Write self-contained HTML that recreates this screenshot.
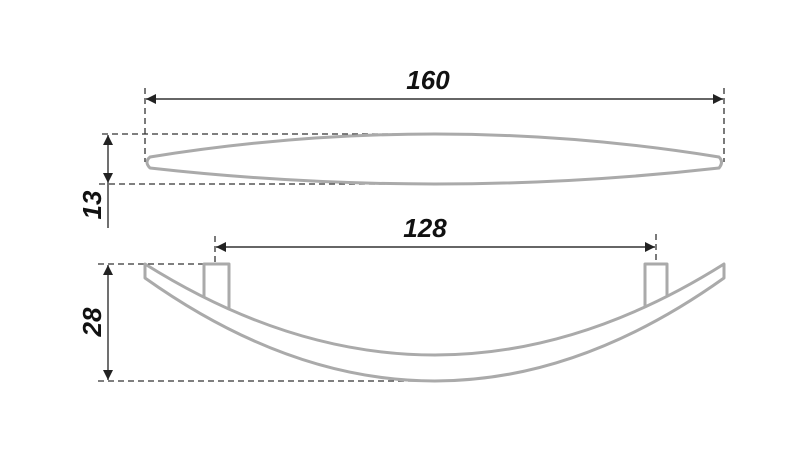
<!DOCTYPE html><html><head><style>body{margin:0;background:#fff}</style></head><body>
<svg width="800" height="450" xmlns="http://www.w3.org/2000/svg">
<defs><marker id="a" viewBox="0 0 10 10" refX="10" refY="5" markerWidth="14" markerHeight="10" markerUnits="userSpaceOnUse" orient="auto-start-reverse"><path d="M0,0L10,5L0,10z" fill="#222"/></marker></defs>
<g stroke="#333" stroke-width="1.3" stroke-dasharray="6,4" fill="none">
<line x1="145" y1="88" x2="145" y2="162"/><line x1="724" y1="88" x2="724" y2="162"/>
<line x1="102" y1="134" x2="432" y2="134"/><line x1="99" y1="184" x2="413" y2="184"/>
<line x1="215" y1="236" x2="215" y2="263"/><line x1="656" y1="234" x2="656" y2="263"/>
<line x1="98" y1="264" x2="205" y2="264"/><line x1="98" y1="381" x2="432" y2="381"/>
</g>
<g stroke="#333" stroke-width="1.4" fill="none">
<line x1="146" y1="99" x2="723" y2="99" marker-start="url(#a)" marker-end="url(#a)"/>
<line x1="216" y1="247" x2="655" y2="247" marker-start="url(#a)" marker-end="url(#a)"/>
<line x1="108" y1="135" x2="108" y2="183" marker-start="url(#a)" marker-end="url(#a)"/>
<line x1="108" y1="183" x2="108" y2="228"/>
<line x1="108" y1="265" x2="108" y2="380" marker-start="url(#a)" marker-end="url(#a)"/>
</g>
<g stroke="#aaa" stroke-width="3" fill="none" stroke-linejoin="round">
<path d="M150,157 Q435,111 719,157 Q724,162 719,168 Q435,200 150,168 Q144,162 150,157z"/>
<path d="M145,264 Q435,446 724,264 L724,278 Q435,484 145,278 Z"/>
<path d="M204,297 L204,264 L229,264 L229,308"/>
<path d="M645,308 L645,264 L667,264 L667,297"/>
</g>
<g font-family="Liberation Sans, sans-serif" font-weight="bold" font-style="italic" font-size="26" fill="#111" text-anchor="middle">
<text x="428" y="89">160</text>
<text x="425" y="237">128</text>
<text transform="translate(101,205) rotate(-90)">13</text>
<text transform="translate(101,322) rotate(-90)">28</text>
</g>
</svg></body></html>
